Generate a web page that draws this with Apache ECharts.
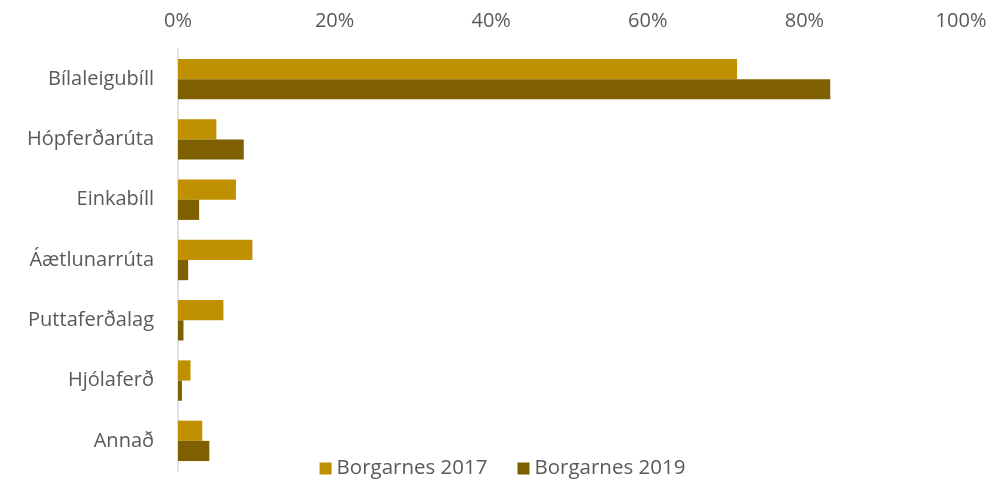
<!DOCTYPE html>
<html>
<head>
<meta charset="utf-8">
<script src="https://cdn.jsdelivr.net/npm/echarts@6/dist/echarts.min.js"></script>
<style>
  html, body { margin: 0; padding: 0; background: #fff; }
  #chart { width: 1005px; height: 485px; }
</style>
</head>
<body>
<div id="chart"></div>
<script>
// flokkar, efst til neðst
const categories = ['Bílaleigubíll', 'Hópferðarúta', 'Einkabíll', 'Áætlunarrúta', 'Puttaferðalag', 'Hjólaferð', 'Annað']
// hlutfall í %
const borgarnes2017 = [71.4, 4.9, 7.4, 9.5, 5.8, 1.6, 3.1]
const borgarnes2019 = [83.3, 8.4, 2.7, 1.3, 0.7, 0.5, 4.0]
const seriesNames = ['Borgarnes 2017', 'Borgarnes 2019']
const seriesColors = ['#BF9000', '#7F6000']

const chart = echarts.init(document.getElementById('chart'))
const font = 'Open Sans, Liberation Sans, sans-serif'

chart.setOption({
  animation: false,
  textStyle: { fontFamily: font },
  grid: { left: 178, right: 44, top: 49, bottom: 14 },
  legend: {
    bottom: 1,
    left: 'center',
    itemWidth: 12,
    itemHeight: 12,
    itemGap: 30,
    icon: 'rect',
    textStyle: { color: '#595959', fontSize: 20.5, fontFamily: font },
    data: seriesNames,
  },
  xAxis: {
    type: 'value',
    position: 'top',
    min: 0,
    max: 100,
    interval: 20,
    axisLine: { show: false },
    axisTick: { show: false },
    splitLine: { show: false },
    axisLabel: { color: '#595959', fontSize: 20, margin: 18, formatter: '{value}%' },
  },
  yAxis: {
    type: 'category',
    inverse: true,
    data: categories,
    axisLine: { show: true, lineStyle: { color: '#D9D9D9', width: 1.5 } },
    axisTick: { show: false },
    axisLabel: { color: '#595959', fontSize: 20, margin: 24 },
  },
  series: [
    {
      name: seriesNames[0],
      type: 'bar',
      data: borgarnes2017,
      itemStyle: { color: seriesColors[0] },
      barGap: '0%',
      barCategoryGap: '33%',
    },
    {
      name: seriesNames[1],
      type: 'bar',
      data: borgarnes2019,
      itemStyle: { color: seriesColors[1] },
      barGap: '0%',
      barCategoryGap: '33%',
    },
  ],
})
</script>
</body>
</html>
